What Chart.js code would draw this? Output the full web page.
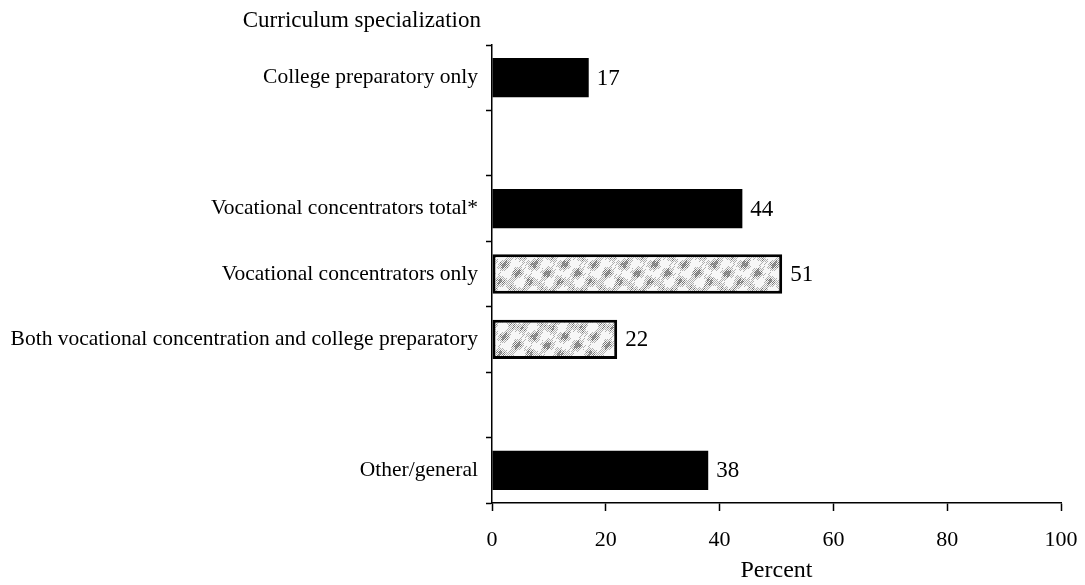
<!DOCTYPE html>
<html>
<head>
<meta charset="utf-8">
<script src="https://cdn.jsdelivr.net/npm/chart.js@4/dist/chart.umd.min.js"></script>
<style>
  html, body { margin: 0; padding: 0; background: #fff; }
  #wrap { width: 1085px; height: 585px; }
</style>
</head>
<body>
<div id="wrap"><canvas id="chart"></canvas></div>
<script>
// Curriculum groups, top to bottom ('' rows leave a gap)
const categories = [
  'College preparatory only',
  '',
  'Vocational concentrators total*',
  'Vocational concentrators only',
  'Both vocational concentration and college preparatory',
  '',
  'Other/general'
];
const percents = [17, null, 44, 51, 22, null, 38];
const shaded = [false, false, false, true, true, false, false];
const xTicks = [0, 20, 40, 60, 80, 100];

const FONT = '"Liberation Serif", "Times New Roman", serif';

// blotchy grey stipple for the vocational sub-groups
function makeSpeckle() {
  const c = document.createElement('canvas');
  c.width = 90; c.height = 36;
  const g = c.getContext('2d');
  g.fillStyle = '#f7f7f7';
  g.fillRect(0, 0, c.width, c.height);
  for (let y = 0; y < c.height; y++) {
    for (let x = 0; x < c.width; x++) {
      const d = Math.sin(x * 0.2094) * Math.sin(y * 0.349 + 0.6)
              + 0.5 * Math.cos(x * 0.4189 + y * 0.1745)
              + 0.3 * Math.sin(x * 1.396 + y * 0.7);
      if ((x + y) % 2 === 0 && d > -0.2) {
        g.fillStyle = d > 0.6 ? '#767676' : '#b0b0b0';
        g.fillRect(x, y, 1, 1);
      } else if (d > 1.0) {
        g.fillStyle = '#a0a0a0';
        g.fillRect(x, y, 1, 1);
      }
    }
  }
  return g.createPattern(c, 'repeat');
}
const speckle = makeSpeckle();

const valueLabels = {
  id: 'valueLabels',
  afterDatasetsDraw(chart) {
    const ctx = chart.ctx;
    const meta = chart.getDatasetMeta(0);
    ctx.save();
    ctx.font = '23px ' + FONT;
    ctx.fillStyle = '#000';
    ctx.textBaseline = 'middle';
    meta.data.forEach((bar, i) => {
      if (percents[i] == null) return;
      ctx.fillText(String(percents[i]), bar.x + 8, bar.y + 1);
    });
    ctx.restore();
  }
};

const headTitle = {
  id: 'headTitle',
  afterDraw(chart) {
    const ctx = chart.ctx;
    ctx.save();
    ctx.font = '23px ' + FONT;
    ctx.fillStyle = '#000';
    ctx.textAlign = 'right';
    ctx.textBaseline = 'middle';
    ctx.fillText('Curriculum specialization', 481, 21);
    ctx.restore();
  }
};

new Chart(document.getElementById('chart'), {
  type: 'bar',
  data: {
    labels: categories,
    datasets: [{
      data: percents,
      backgroundColor: shaded.map(s => s ? speckle : '#000'),
      borderColor: '#000',
      borderWidth: shaded.map(s => s ? 3 : 0),
      borderSkipped: false,
      categoryPercentage: 1,
      barPercentage: 0.6
    }]
  },
  options: {
    indexAxis: 'y',
    responsive: true,
    maintainAspectRatio: false,
    animation: false,
    layout: { padding: { top: 45, right: 24, left: 0, bottom: 0 } },
    plugins: {
      legend: { display: false },
      tooltip: { enabled: false }
    },
    scales: {
      x: {
        min: 0,
        max: 100,
        afterBuildTicks: (scale) => { scale.ticks = xTicks.map(v => ({ value: v })); },
        afterFit: (scale) => {
          scale.height = 82;
          scale.paddingRight = 0;
          scale.paddingLeft = 0;
        },
        grid: { drawOnChartArea: false, tickLength: 8, color: '#000', tickWidth: 1.5 },
        border: { color: '#000', width: 1.5 },
        ticks: { color: '#000', font: { family: FONT, size: 22 }, padding: 16, maxRotation: 0 },
        title: { display: true, text: 'Percent', color: '#000', font: { family: FONT, size: 24 }, padding: { top: 5, bottom: 0 } }
      },
      y: {
        offset: true,
        afterFit: (scale) => { scale.width = 492; },
        grid: { drawOnChartArea: false, offset: true, tickLength: 6, color: '#000', tickWidth: 1.5 },
        border: { color: '#000', width: 1.5 },
        ticks: { color: '#000', font: { family: FONT, size: 21.5 }, padding: 8, autoSkip: false }
      }
    }
  },
  plugins: [valueLabels, headTitle]
});
</script>
</body>
</html>
